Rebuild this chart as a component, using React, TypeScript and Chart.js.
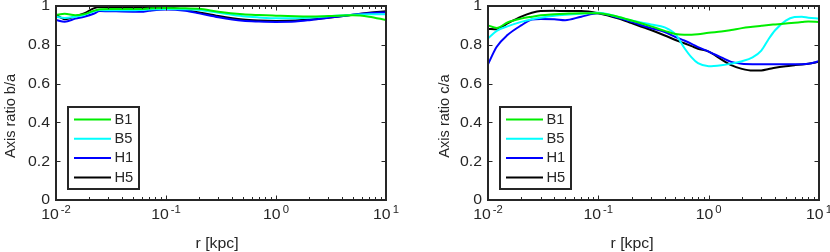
import React, { useEffect, useRef } from "react";
import { Chart, registerables } from "chart.js";

Chart.register(...registerables);

// ---------- data ----------
const SERIES_NAMES = ["B1", "B5", "H1", "H5"];
const SERIES_COLORS = ["#00ee00", "#00ffff", "#0000ff", "#000000"];

const rLeft = [0.01, 0.012, 0.015, 0.018, 0.022, 0.025, 0.03, 0.04, 0.05, 0.06, 0.07, 0.1, 0.15, 0.2, 0.3, 0.5, 0.7, 1, 1.5, 2, 3, 5, 7, 10];
const baB1 = [0.954, 0.96, 0.952, 0.958, 0.975, 0.983, 0.985, 0.985, 0.985, 0.985, 0.987, 0.99, 0.988, 0.986, 0.97, 0.957, 0.953, 0.95, 0.947, 0.946, 0.948, 0.952, 0.945, 0.928];
const baB5 = [0.945, 0.938, 0.945, 0.954, 0.972, 0.979, 0.978, 0.978, 0.978, 0.98, 0.982, 0.985, 0.983, 0.979, 0.965, 0.947, 0.941, 0.937, 0.937, 0.94, 0.947, 0.955, 0.957, 0.957];
const baH1 = [0.928, 0.919, 0.935, 0.945, 0.96, 0.974, 0.973, 0.972, 0.971, 0.97, 0.975, 0.982, 0.975, 0.962, 0.942, 0.924, 0.92, 0.918, 0.92, 0.927, 0.94, 0.955, 0.963, 0.968];
const baH5 = [0.955, 0.932, 0.947, 0.962, 0.988, 0.995, 0.995, 0.994, 0.994, 0.994, 0.995, 0.993, 0.98, 0.967, 0.948, 0.93, 0.925, 0.923, 0.925, 0.93, 0.94, 0.955, 0.965, 0.973];

const rRight = [0.01, 0.012, 0.015, 0.02, 0.025, 0.03, 0.04, 0.05, 0.07, 0.1, 0.15, 0.2, 0.3, 0.4, 0.5, 0.6, 0.7, 0.8, 1, 1.3, 1.6, 2, 2.5, 3, 3.5, 4, 5, 6, 7, 8, 10];
const caB1 = [0.9, 0.887, 0.915, 0.935, 0.945, 0.952, 0.957, 0.96, 0.963, 0.963, 0.945, 0.925, 0.895, 0.872, 0.856, 0.852, 0.852, 0.854, 0.862, 0.868, 0.876, 0.886, 0.893, 0.898, 0.902, 0.905, 0.91, 0.914, 0.917, 0.92, 0.918];
const caB5 = [0.833, 0.872, 0.895, 0.918, 0.932, 0.94, 0.95, 0.955, 0.96, 0.965, 0.945, 0.925, 0.905, 0.89, 0.855, 0.785, 0.735, 0.705, 0.69, 0.695, 0.703, 0.715, 0.735, 0.77, 0.83, 0.875, 0.925, 0.943, 0.945, 0.94, 0.935];
const caH1 = [0.7, 0.79, 0.85, 0.9, 0.93, 0.933, 0.932, 0.927, 0.945, 0.962, 0.94, 0.918, 0.886, 0.866, 0.84, 0.822, 0.805, 0.788, 0.765, 0.735, 0.712, 0.702, 0.7, 0.7, 0.7, 0.7, 0.7, 0.7, 0.7, 0.702, 0.715];
const caH5 = [0.882, 0.88, 0.91, 0.945, 0.965, 0.974, 0.975, 0.974, 0.974, 0.963, 0.937, 0.912, 0.876, 0.848, 0.825, 0.808, 0.793, 0.78, 0.765, 0.725, 0.695, 0.676, 0.667, 0.668, 0.675, 0.682, 0.69, 0.695, 0.699, 0.702, 0.713];

const yTicks = [0, 0.2, 0.4, 0.6, 0.8, 1];
const yTickLabels = ["0", "0.2", "0.4", "0.6", "0.8", "1"];
const xDecades = [0.01, 0.1, 1, 10];
const xExponents = ["-2", "-1", "0", "1"];
const xTitle = "r [kpc]";

// ---------- styling ----------
const AXIS = "#262626";
const FONT = "'Liberation Sans', Arial, sans-serif";
const FS = 14;
const SX = 1.13;

function drawStretched(ctx: CanvasRenderingContext2D, text: string, x: number, y: number, size: number, sx: number, align: "left" | "right" | "center") {
  ctx.font = `${size}px ${FONT}`;
  const w = ctx.measureText(text).width * sx;
  let x0 = x;
  if (align === "right") x0 = x - w;
  else if (align === "center") x0 = x - w / 2;
  ctx.save();
  ctx.translate(x0, y);
  ctx.scale(sx, 1);
  ctx.textAlign = "left";
  ctx.fillText(text, 0, 0);
  ctx.restore();
}

function makePlugin(yTitle: string, yTitleX: number, yTitleY: number, xTitleX: number) {
  return {
    id: "matlabAxes",
    afterDatasetsDraw(chart: any) {
      const ctx: CanvasRenderingContext2D = chart.ctx;
      const { left, right, top, bottom } = chart.chartArea;
      const xs = chart.scales.x;
      const ys = chart.scales.y;
      ctx.save();
      ctx.strokeStyle = AXIS;
      ctx.fillStyle = AXIS;
      ctx.lineWidth = 1;
      ctx.beginPath();
      yTicks.forEach((v) => {
        const py = Math.round(ys.getPixelForValue(v)) + 0.5;
        ctx.moveTo(left, py);
        ctx.lineTo(left + 4.5, py);
        ctx.moveTo(right, py);
        ctx.lineTo(right - 4.5, py);
      });
      for (let d = 0; d < xDecades.length; d++) {
        const base = xDecades[d];
        for (let m = 1; m <= 9; m++) {
          const val = base * m;
          if (val > 10 + 1e-9) break;
          const px = Math.round(xs.getPixelForValue(val)) + 0.5;
          const len = m === 1 ? 4.5 : 3;
          ctx.moveTo(px, bottom);
          ctx.lineTo(px, bottom - len);
          ctx.moveTo(px, top);
          ctx.lineTo(px, top + len);
        }
      }
      ctx.stroke();
      ctx.lineWidth = 2;
      ctx.strokeRect(left, top, right - left, bottom - top);

      // y tick labels
      ctx.textBaseline = "middle";
      yTicks.forEach((v, i) => {
        const py = ys.getPixelForValue(v);
        drawStretched(ctx, yTickLabels[i], left - 6, py + 0.5, FS, SX, "right");
      });
      // x tick labels with superscript exponent
      ctx.textBaseline = "alphabetic";
      xDecades.forEach((v, i) => {
        const px = xs.getPixelForValue(v);
        ctx.font = `${FS}px ${FONT}`;
        const wBase = ctx.measureText("10").width * SX;
        ctx.font = `10px ${FONT}`;
        const wExp = ctx.measureText(xExponents[i]).width * SX;
        const gap = 2;
        const total = wBase + gap + wExp;
        const x0 = px - total / 2;
        drawStretched(ctx, "10", x0, 219, FS, SX, "left");
        drawStretched(ctx, xExponents[i], x0 + wBase + gap, 213, 10, SX, "left");
      });
      // x title
      drawStretched(ctx, xTitle, xTitleX, 248, FS, SX, "center");
      // y title (rotated)
      ctx.save();
      ctx.translate(yTitleX, yTitleY);
      ctx.rotate(-Math.PI / 2);
      ctx.font = `${FS}px ${FONT}`;
      const syT = 1.04;
      const wT = ctx.measureText(yTitle).width * syT;
      ctx.scale(syT, 1);
      ctx.textAlign = "left";
      ctx.fillText(yTitle, -wT / 2 / syT, 0);
      ctx.restore();

      // legend
      const bx = left + 12;
      const by = 107;
      const bw = 71;
      const bh = 82;
      ctx.fillStyle = "#ffffff";
      ctx.fillRect(bx, by, bw, bh);
      ctx.lineWidth = 2;
      ctx.strokeStyle = AXIS;
      ctx.strokeRect(bx, by, bw, bh);
      chart.data.datasets.forEach((ds: any, i: number) => {
        const cy = by + 12.5 + i * 19.3;
        ctx.strokeStyle = ds.borderColor;
        ctx.lineWidth = 2;
        ctx.beginPath();
        ctx.moveTo(bx + 6, cy);
        ctx.lineTo(bx + 43, cy);
        ctx.stroke();
        ctx.fillStyle = AXIS;
        ctx.textBaseline = "middle";
        drawStretched(ctx, ds.label, bx + 46.5, cy + 0.5, FS, 1.05, "left");
      });
      ctx.restore();
    },
  };
}

type PanelProps = {
  r: number[];
  series: number[][];
  yTitle: string;
  padLeft: number;
  padRight: number;
  yTitleX: number;
  yTitleY: number;
  xTitleX: number;
  offsetX: number;
};

function Panel(props: PanelProps) {
  const ref = useRef<HTMLCanvasElement | null>(null);
  useEffect(() => {
    if (!ref.current) return;
    const datasets = props.series.map((vals, i) => ({
      label: SERIES_NAMES[i],
      data: props.r.map((x, j) => ({ x, y: vals[j] })),
      borderColor: SERIES_COLORS[i],
      backgroundColor: SERIES_COLORS[i],
      borderWidth: 2,
      pointRadius: 0,
      fill: false,
      cubicInterpolationMode: "monotone" as const,
    }));
    const chart = new Chart(ref.current, {
      type: "line",
      data: { datasets },
      options: {
        animation: false,
        responsive: false,
        devicePixelRatio: 1,
        layout: { padding: { left: props.padLeft, right: props.padRight, top: 6, bottom: 52 } },
        plugins: { legend: { display: false }, tooltip: { enabled: false } },
        scales: {
          x: { type: "logarithmic", min: 0.01, max: 10, display: false },
          y: { type: "linear", min: 0, max: 1, display: false },
        },
      },
      plugins: [makePlugin(props.yTitle, props.yTitleX, props.yTitleY, props.xTitleX)],
    });
    return () => chart.destroy();
  }, []);
  return (
    <canvas
      ref={ref}
      width={415}
      height={252}
      style={{ position: "absolute", left: props.offsetX, top: 0, width: 415, height: 252 }}
    />
  );
}

export default function App() {
  return (
    <div style={{ position: "fixed", left: 0, top: 0, width: 830, height: 252, background: "#ffffff", overflow: "hidden" }}>
      <Panel r={rLeft} series={[baB1, baB5, baH1, baH5]} yTitle="Axis ratio b/a" padLeft={56} padRight={29} yTitleX={15} yTitleY={116} xTitleX={217} offsetX={0} />
      <Panel r={rRight} series={[caB1, caB5, caH1, caH5]} yTitle="Axis ratio c/a" padLeft={73} padRight={11} yTitleX={34} yTitleY={116} xTitleX={217} offsetX={415} />
    </div>
  );
}
